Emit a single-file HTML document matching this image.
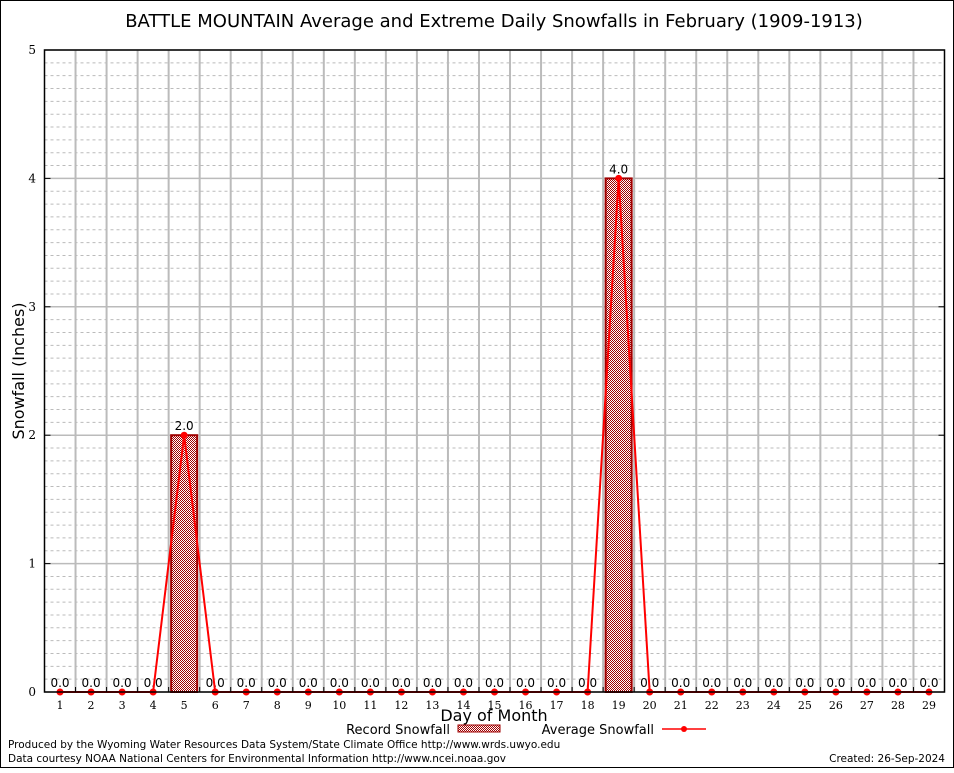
<!DOCTYPE html>
<html><head><meta charset="utf-8"><style>
body{margin:0;background:#fff;}
svg text{font-family:"DejaVu Sans","Liberation Sans",sans-serif;}
svg text.serif{font-family:"DejaVu Serif","Liberation Serif",serif;}
</style></head><body>
<svg id="chart" width="954" height="768" viewBox="0 0 954 768" xmlns="http://www.w3.org/2000/svg">
<defs>
<pattern id="hatch" width="2" height="2" patternUnits="userSpaceOnUse">
<rect width="2" height="2" fill="#fff"/>
<rect width="1" height="1" fill="#a00000"/><rect x="1" y="1" width="1" height="1" fill="#a00000"/>
</pattern>
</defs>
<rect x="0.5" y="0.5" width="953" height="767" fill="#fff" stroke="#000"/>
<text x="494" y="27" font-size="18" text-anchor="middle">BATTLE MOUNTAIN Average and Extreme Daily Snowfalls in February (1909-1913)</text>
<g id="grid"></g>
<g id="bars"></g>
<g id="avg"></g>
<g id="axes"></g>
<text transform="translate(24,371) rotate(-90)" font-size="16" text-anchor="middle">Snowfall (Inches)</text>
<text x="494" y="721" font-size="16" text-anchor="middle">Day of Month</text>
<g>
<text x="450" y="734" font-size="13" text-anchor="end">Record Snowfall</text>
<rect x="458" y="725" width="42" height="7" fill="url(#hatch)" stroke="#a00000"/>
<text x="654" y="734" font-size="13" text-anchor="end">Average Snowfall</text>
<line x1="662" y1="729" x2="706" y2="729" stroke="#f00" stroke-width="1.5"/>
<circle cx="684" cy="729" r="3" fill="#f00"/>
</g>
<text x="8" y="748" font-size="10.5">Produced by the Wyoming Water Resources Data System/State Climate Office http://www.wrds.uwyo.edu</text>
<text x="8" y="762" font-size="10.5">Data courtesy NOAA National Centers for Environmental Information http://www.ncei.noaa.gov</text>
<text x="945" y="762" font-size="10.5" text-anchor="end">Created:  26-Sep-2024</text>
</svg>
<script>
const days = [1,2,3,4,5,6,7,8,9,10,11,12,13,14,15,16,17,18,19,20,21,22,23,24,25,26,27,28,29];
const recordSnow = [0,0,0,0,2.0,0,0,0,0,0,0,0,0,0,0,0,0,0,4.0,0,0,0,0,0,0,0,0,0,0];
const avgSnow = [0,0,0,0,2.0,0,0,0,0,0,0,0,0,0,0,0,0,0,4.0,0,0,0,0,0,0,0,0,0,0];
const yTicks = [0,1,2,3,4,5];

const NS="http://www.w3.org/2000/svg";
const L=44.5,R=944.5,T=50,B=692,yMax=5;
const step=(R-L)/days.length;
const xs=d=>L+(d-0.5)*step;
const ys=v=>B-(v/yMax)*(B-T);
function mk(tag,attrs,parent,txt){const e=document.createElementNS(NS,tag);for(const k in attrs)e.setAttribute(k,attrs[k]);if(txt!==undefined)e.textContent=txt;parent.appendChild(e);return e;}
const grid=document.getElementById('grid'),bars=document.getElementById('bars'),avg=document.getElementById('avg'),axes=document.getElementById('axes');
for(let v=0;v<=yMax*10;v++){const y=ys(v/10);
 const g=mk('line',{x1:L,x2:R,y1:y,y2:y,stroke:'#bbb','stroke-width':v%10===0?1.5:1,'stroke-dasharray':v%10===0?'':'3,3'},grid);
 
 }
for(let i=1;i<days.length;i++){const x=L+i*step;
 const g=mk('line',{x1:x,x2:x,y1:T,y2:B,stroke:'#bbb','stroke-width':2},grid);
 
 
 const t=mk('line',{x1:x,x2:x,y1:B,y2:B-5,stroke:'#000'},axes);
 
 }
days.forEach((d,i)=>{
 const v=recordSnow[i];
 if(v>0){const b=mk('rect',{x:xs(d)-13,y:ys(v),width:26,height:B-ys(v),fill:'url(#hatch)',stroke:'#a00000','stroke-width':2},bars);
  
  }
 const lb=mk('text',{x:xs(d),y:ys(v)-5,'font-size':12,'text-anchor':'middle'},bars,v.toFixed(1));
 
 
 const xl=mk('text',{x:xs(d),y:B+17,'font-size':11,'text-anchor':'middle','class':'serif'},axes,String(d));
 
 
});
const pts=days.map((d,i)=>xs(d)+','+ys(avgSnow[i])).join(' ');
const pl=mk('polyline',{points:pts,fill:'none',stroke:'#f00','stroke-width':2},avg);


days.forEach((d,i)=>{const c=mk('circle',{cx:xs(d),cy:ys(avgSnow[i]),r:3.5,fill:'#f00'},avg);
 
 });
yTicks.forEach(v=>{const y=ys(v);
 const t=mk('text',{x:36,y:y+4,'font-size':12,'text-anchor':'end','class':'serif'},axes,String(v));
 
 
 const tk=mk('line',{x1:L,x2:L+6,y1:y,y2:y,stroke:'#000'},axes);
 
 
 const tk2=mk('line',{x1:R-6,x2:R,y1:y,y2:y,stroke:'#000'},axes);
 
 });
const fr=mk('rect',{x:L,y:T,width:R-L,height:B-T,fill:'none',stroke:'#000','stroke-width':1.5},axes);


</script>
</body></html>
